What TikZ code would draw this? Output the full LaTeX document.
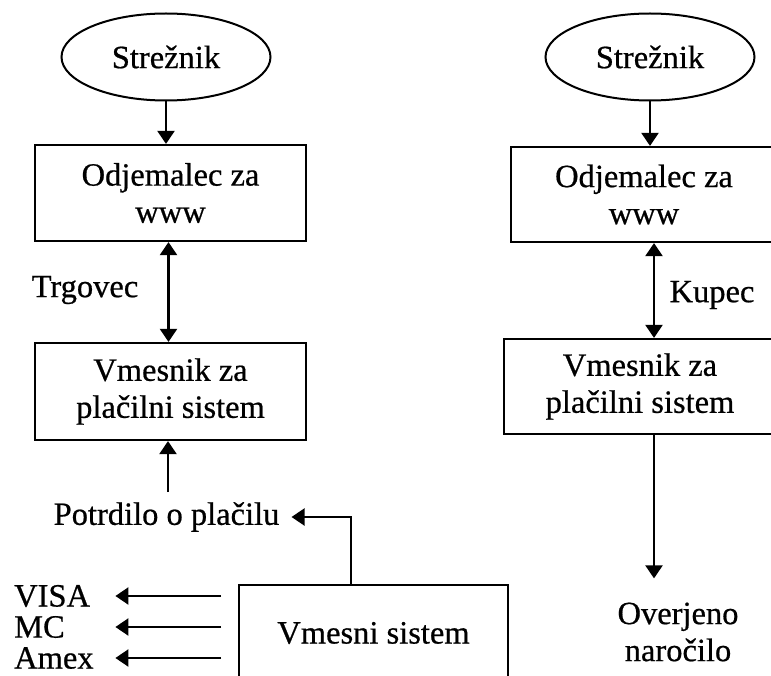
\documentclass[tikz,border=0pt]{standalone}
\usepackage{fontspec}
\setmainfont[FakeBold=0.6]{Liberation Serif}
\usetikzlibrary{shapes.geometric,arrows.meta,positioning}

\begin{document}
\begin{tikzpicture}[
  x=1pt, y=-1pt,
  font=\fontsize{32.5}{37}\selectfont,
  box/.style={draw, line width=2.2pt, align=center, minimum width=271pt, minimum height=96pt, inner sep=0pt},
  oval/.style={draw, ellipse, line width=2pt, minimum width=209pt, minimum height=87pt, inner sep=0pt},
  lbl/.style={align=center, inner sep=2pt},
  card/.style={anchor=west, inner sep=0pt, text width=101pt, align=left},
  arr/.style={-{Triangle[length=13pt,width=17pt]}, line width=2.2pt},
  dbl/.style={{Triangle[length=13pt,width=17pt]}-{Triangle[length=13pt,width=17pt]}, line width=2.2pt}
]
\useasboundingbox (0,0) rectangle (771,676);

% trgovec
\node[oval] (srvL) at (166,57) {Strežnik};
\node[box] (wwwL) at (170.5,193) {Odjemalec za\\www};
\node[box, minimum height=97pt] (payL) at (170.5,391.5) {Vmesnik za\\plačilni sistem};
\node[lbl] (trg) at (85,290) {Trgovec};
\node[lbl, inner xsep=12pt, inner ysep=10pt] (potrd) at (166.5,517) {Potrdilo o plačilu};

% kupec
\node[oval] (srvR) at (650,57) {Strežnik};
\node[box, minimum width=266pt, minimum height=95pt] (wwwR) at (644,194.5) {Odjemalec za\\www};
\node[box, minimum width=272pt, minimum height=95pt] (payR) at (640,386.5) {Vmesnik za\\plačilni sistem};
\node[lbl] (kup) at (712,295) {Kupec};
\node[lbl, inner xsep=2pt, inner ysep=24pt] (ovr) at (678,632) {Overjeno\\naročilo};

% placilni sistem
\node[box, minimum width=269pt, minimum height=96pt] (vms) at (373.5,633) {Vmesni sistem};
\node[card] (visa) at (14,596) {VISA};
\node[card] (mc) at (14,627) {MC};
\node[card] (amex) at (14,658) {Amex};
\coordinate (visaSrc) at (221,596);
\coordinate (mcSrc) at (221,627);
\coordinate (amexSrc) at (221,658);

\draw[arr] (srvL.south) -- (srvL.south |- wwwL.north);
\draw[dbl] ([xshift=-2pt]wwwL.south) -- ([xshift=-2pt]payL.north);
\draw[arr] ([xshift=1.5pt]potrd.north) -- ([xshift=1.5pt]potrd.north |- payL.south);
\draw[arr] ([xshift=-22.5pt]vms.north) |- (potrd);

\draw[arr] (srvR.south) -- (srvR.south |- wwwR.north);
\draw[dbl] ([xshift=10pt]wwwR.south) -- ([xshift=10pt]wwwR.south |- payR.north);
\draw[arr] ([xshift=14pt]payR.south) -- ([xshift=14pt]payR.south |- ovr.north);

\draw[arr] (visaSrc) -- (visa);
\draw[arr] (mcSrc) -- (mc);
\draw[arr] (amexSrc) -- (amex);
\end{tikzpicture}
\end{document}
